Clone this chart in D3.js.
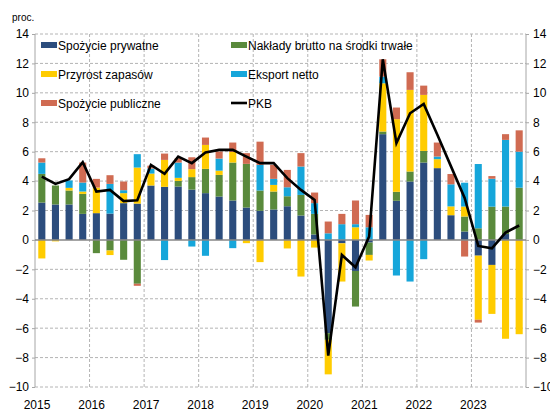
<!DOCTYPE html>
<html>
<head>
<meta charset="utf-8">
<script src="https://cdn.jsdelivr.net/npm/d3@7"></script>
<style>
  body { margin: 0; background: #fff; }
  text { font-family: "Liberation Sans", Arial, sans-serif; fill: #000; }
</style>
</head>
<body>
<div id="d3-container"></div>
<script>
/**
 * DATA (quarters 2015 Q1 - 2023 Q4)
 * */
const years = [2015, 2016, 2017, 2018, 2019, 2020, 2021, 2022, 2023];
const quarters = years.flatMap(y => [1, 2, 3, 4].map(q => `${y}Q${q}`));

const spozyciePrywatne = [2.54, 2.41, 2.41, 1.77, 1.82, 1.79, 2.50, 2.47, 3.70, 3.61, 3.63, 3.42,
  3.18, 2.95, 2.68, 2.20, 1.98, 2.07, 2.29, 1.66, 0.37, -6.34, -0.23, -2.11,
  -0.18, 7.19, 2.66, 3.97, 5.26, 4.88, 1.68, 0.57, -1.07, -1.70, 0.40, 0];
const naklady = [1.95, 1.29, 0.95, 1.36, -0.90, -0.72, -1.35, -2.98, 0, 0, 0.38, 0.85,
  1.65, 1.47, 2.58, 2.97, 1.38, 1.22, 0.68, 1.40, 1.40, -0.45, 0, -2.42,
  -0.84, 0.18, 0.61, 0.68, 0.79, 0, 0, 1.02, 0.79, 2.26, 1.87, 3.55];
const przyrostZapasow = [-1.26, -0.10, 0.18, 0.16, 1.74, -0.31, 0.68, 2.45, 0.81, 1.83, 0.21, 0.54,
  1.63, 0.29, 0.72, -0.22, -1.51, 0.45, -0.58, -2.49, -0.52, -2.35, -2.60, 0.86,
  -0.38, 3.28, 4.94, 5.55, 3.81, 0.61, 0.60, 0.68, -4.36, -3.33, -6.72, -6.41];
const eksportNetto = [0.77, 0, 0.50, 0.61, 0, 2.02, 0.20, 0.91, 0.34, -1.37, 1.04, -0.45,
  -1.08, 0.82, -0.56, 0, 1.74, 0.41, 0.61, 1.93, 0.73, 0.45, 1.07, 0.21,
  0.86, 0.45, -2.42, -2.83, -1.31, 0.18, 1.50, 1.62, 4.37, 1.90, 4.53, 2.45];
const spozyciePubliczne = [0.29, 0, 0, 1.36, 0.59, 0.59, 0.59, -0.14, 0.20, 0.43, 0.29, 0.81,
  0.50, 0.48, 0.64, 0.73, 1.58, 0.95, 1.18, 0.91, 0.72, 0.80, 0.70, 1.61,
  0.84, 1.18, 0.79, 1.20, 0.63, 0.95, 0.70, -1.13, -0.19, 0.18, 0.39, 1.45];
const pkb = [4.31, 3.81, 4.13, 5.28, 3.29, 3.40, 2.64, 2.70, 5.10, 4.49, 5.66, 5.22,
  5.94, 6.12, 6.12, 5.66, 5.22, 5.22, 4.20, 3.40, 2.72, -7.86, -1.02, -1.86,
  0.23, 12.28, 6.58, 8.61, 9.25, 7.15, 5.00, 2.85, -0.41, -0.57, 0.50, 0.98];

const seriesNames = ["Spożycie prywatne", "Nakłady brutto na środki trwałe", "Przyrost zapasów",
  "Eksport netto", "Spożycie publiczne"];
const seriesValues = [spozyciePrywatne, naklady, przyrostZapasow, eksportNetto, spozyciePubliczne];
const colors = ["#2c4d7d", "#5a8a3c", "#ffcc00", "#16a6da", "#d06b52"];
const yTicks = d3.range(-10, 16, 2);

/**
 * CONSTANTS
 * */
const width = 550, height = 416;
const margin = { top: 34, bottom: 29, left: 35, right: 24 };

const svg = d3.select("#d3-container")
  .append("svg")
  .attr("width", width)
  .attr("height", height);

// rows for the stack
const rows = quarters.map((q, i) => {
  const r = { q };
  seriesNames.forEach((s, j) => r[s] = seriesValues[j][i]);
  return r;
});

const stacked = d3.stack()
  .keys(seriesNames)
  .offset(d3.stackOffsetDiverging)(rows);

// scales
const y = d3.scaleLinear()
  .domain([-10, 14])
  .range([height - margin.bottom, margin.top]);

const xYear = d3.scaleLinear()
  .domain([2015, 2024])
  .range([margin.left, width - margin.right]);

const x = d3.scaleBand()
  .domain(quarters)
  .range([margin.left, width - margin.right])
  .paddingInner(0.48)
  .paddingOuter(0.24);

// grid
svg.append("g")
  .selectAll("line")
  .data(yTicks.filter(d => d !== 0))
  .join("line")
  .attr("x1", margin.left).attr("x2", width - margin.right)
  .attr("y1", d => y(d)).attr("y2", d => y(d))
  .attr("stroke", "#b4b4b4")
  .attr("stroke-dasharray", "3,2");

svg.append("g")
  .selectAll("line")
  .data(d3.range(2016, 2024))
  .join("line")
  .attr("x1", d => xYear(d)).attr("x2", d => xYear(d))
  .attr("y1", y(14)).attr("y2", y(-10))
  .attr("stroke", "#b4b4b4")
  .attr("stroke-dasharray", "3,2");

// side axes
[margin.left, width - margin.right].forEach(xx => {
  svg.append("line")
    .attr("x1", xx).attr("x2", xx)
    .attr("y1", y(14)).attr("y2", y(-10))
    .attr("stroke", "#a6a6a6");
});

svg.append("g")
  .attr("transform", `translate(${margin.left},0)`)
  .call(d3.axisLeft(y).tickValues(yTicks).tickSize(3).tickPadding(3))
  .call(g => g.select(".domain").remove())
  .call(g => g.selectAll("line").attr("stroke", "#a6a6a6"))
  .call(g => g.selectAll("text").attr("font-size", 12).attr("font-family", "Liberation Sans, Arial"));

svg.append("g")
  .attr("transform", `translate(${width - margin.right},0)`)
  .call(d3.axisRight(y).tickValues(yTicks).tickSize(3).tickPadding(4))
  .call(g => g.select(".domain").remove())
  .call(g => g.selectAll("line").attr("stroke", "#a6a6a6"))
  .call(g => g.selectAll("text").attr("font-size", 12).attr("font-family", "Liberation Sans, Arial"));

// year labels
svg.append("g")
  .selectAll("text")
  .data(years)
  .join("text")
  .attr("x", d => xYear(d) + 2)
  .attr("y", 409)
  .attr("text-anchor", "middle")
  .attr("font-size", 12)
  .text(d => d);

// bars
svg.append("g")
  .selectAll("g")
  .data(stacked)
  .join("g")
  .attr("fill", (d, i) => colors[i])
  .selectAll("rect")
  .data(d => d)
  .join("rect")
  .attr("x", d => x(d.data.q))
  .attr("width", x.bandwidth())
  .attr("y", d => y(Math.max(d[0], d[1])))
  .attr("height", d => Math.abs(y(d[0]) - y(d[1])));

// zero line
svg.append("line")
  .attr("x1", margin.left).attr("x2", width - margin.right)
  .attr("y1", y(0)).attr("y2", y(0))
  .attr("stroke", "#868686")
  .attr("stroke-width", 1.5);

// PKB line
const line = d3.line()
  .x((d, i) => x(quarters[i]) + x.bandwidth() / 2)
  .y(d => y(d));

svg.append("path")
  .datum(pkb)
  .attr("d", line)
  .attr("fill", "none")
  .attr("stroke", "#000")
  .attr("stroke-width", 2.6)
  .attr("stroke-linejoin", "miter");

// unit label
svg.append("text")
  .attr("x", 12).attr("y", 21)
  .attr("font-size", 10)
  .text("proc.");

// legend
const legendItems = [
  { name: seriesNames[0], color: colors[0], col: 0, row: 0 },
  { name: seriesNames[1], color: colors[1], col: 1, row: 0 },
  { name: seriesNames[2], color: colors[2], col: 0, row: 1 },
  { name: seriesNames[3], color: colors[3], col: 1, row: 1 },
  { name: seriesNames[4], color: colors[4], col: 0, row: 2 },
  { name: "PKB", color: "#000", col: 1, row: 2, line: true }
];
const colX = [41, 231];
const rowY = [45, 74, 103];

const leg = svg.append("g")
  .selectAll("g")
  .data(legendItems)
  .join("g")
  .attr("transform", d => `translate(${colX[d.col]},${rowY[d.row]})`);

leg.append("rect")
  .attr("x", 0)
  .attr("y", d => d.line ? -1.3 : -3)
  .attr("width", 16)
  .attr("height", d => d.line ? 2.6 : 6)
  .attr("fill", d => d.color);

leg.append("text")
  .attr("x", 17)
  .attr("y", 4.5)
  .attr("font-size", 12)
  .text(d => d.name);
</script>
</body>
</html>
